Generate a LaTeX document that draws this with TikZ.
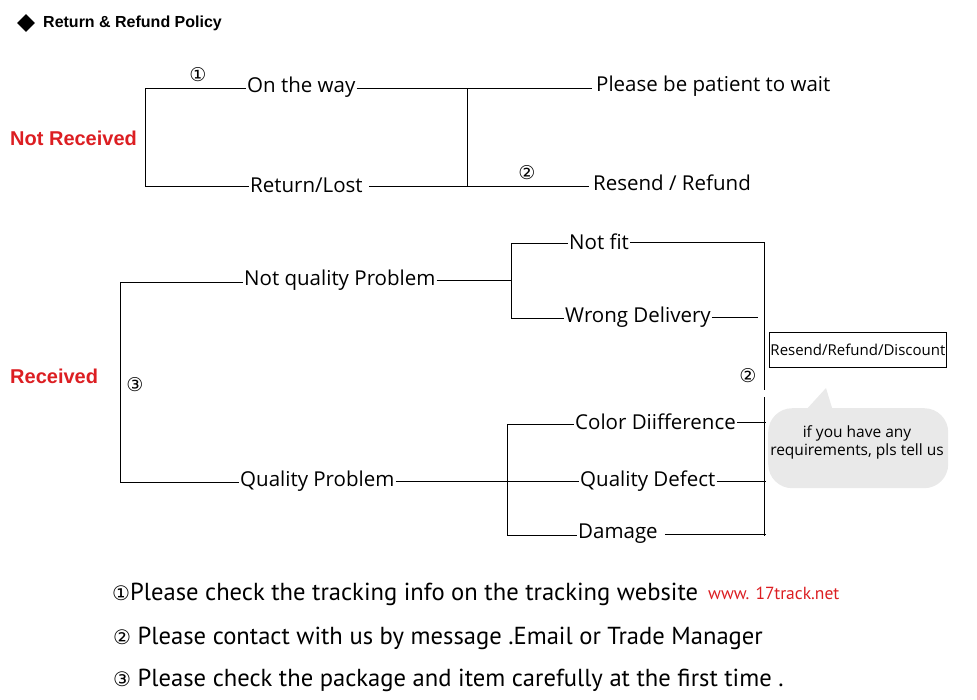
\documentclass[tikz,border=0pt]{standalone}
\usepackage{fontspec}
\usepackage{graphicx}
\setmainfont{Open Sans}
\newfontfamily\arialfont{Liberation Sans}
\newfontfamily\circfont{DejaVu Sans}
\newfontfamily\notefont{PT Sans}
\usetikzlibrary{positioning,shapes.geometric}
\definecolor{alired}{RGB}{220,30,34}
\definecolor{bubblegray}{RGB}{233,233,233}

\begin{document}
\begin{tikzpicture}[x=1pt,y=-1pt,
  lbl/.style={font=\fontsize{20.5}{23}\selectfont, inner sep=1pt, anchor=west},
  head/.style={font=\arialfont\bfseries\fontsize{20}{23}\selectfont, text=alired, inner sep=0pt, anchor=west},
  circ/.style={font=\circfont\fontsize{19}{21}\selectfont, inner sep=0pt},
  note/.style={font=\notefont\fontsize{24.6}{27}\selectfont, inner sep=0pt, anchor=west},
  wire/.style={line width=0.8pt}]
  \useasboundingbox (0,0) rectangle (977,699);

  % Titulo
  \node[diamond, fill=black, minimum size=18pt, inner sep=0pt] (bullet) at (26,23) {};
  \node[font=\arialfont\bfseries\fontsize{16}{19}\selectfont, anchor=west, inner sep=0pt]
    (title) at (43,23) {Return \& Refund Policy};

  % No recibido
  \node[head] (notrec) at (10,138) {Not Received};
  \coordinate (nrtop) at (145,88);
  \coordinate (nrbot) at (145,186);
  \coordinate (midtop) at (467,88);
  \coordinate (midbot) at (467,186);
  \node[lbl] (onway) at (246,87) {On the way};
  \node[lbl] (lost) at (249,185) {Return/Lost};
  \node[lbl, inner sep=4pt] (wait) at (592,86) {Please be patient to wait};
  \node[lbl, inner sep=4pt] (resend) at (589,183) {Resend / Refund};
  \node[circ] (one) at (198,75) {①};
  \node[circ] (two) at (527,173) {②};
  \draw[wire] (nrtop) -- (nrbot);
  \draw[wire] (nrtop) -- (nrtop -| onway.west);
  \draw[wire] (nrbot) -- (nrbot -| lost.west);
  \draw[wire] (onway.east |- midtop) -- (midtop -| wait.west);
  \draw[wire] ([xshift=5pt]lost.east |- midbot) -- (midbot -| resend.west);
  \draw[wire] (midtop) -- (midbot);

  % Recibido
  \node[head] (rec) at (10,376) {Received};
  \coordinate (rctop) at (120,282);
  \coordinate (rcbot) at (120,482);
  \node[lbl] (nqp) at (243,280) {Not quality Problem};
  \node[lbl] (qp) at (239,481) {Quality Problem};
  \node[circ] (three) at (135,385) {③};
  \draw[wire] (rctop) -- (rcbot);
  \draw[wire] (rctop) -- (rctop -| nqp.west);
  \draw[wire] (rcbot) -- (rcbot -| qp.west);

  % Rama sin problema de calidad
  \coordinate (bAtop) at (511,243);
  \coordinate (bAbot) at (511,318);
  \node[lbl] (notfit) at (568,242) {Not fit};
  \node[lbl] (wrong) at (564,317) {Wrong Delivery};
  \draw[wire] (nqp.east) -- (nqp.east -| bAtop);
  \draw[wire] (bAtop) -- (bAbot);
  \draw[wire] (bAtop) -- (bAtop -| notfit.west);
  \draw[wire] (bAbot) -- (bAbot -| wrong.west);

  % Rama con problema de calidad
  \coordinate (bBtop) at (507,424);
  \coordinate (bBbot) at (507,535);
  \node[lbl] (color) at (574,422) {Color Diifference};
  \node[lbl] (defect) at (579,481) {Quality Defect};
  \node[lbl] (damage) at (577,534) {Damage};
  \draw[wire] (bBtop) -- (bBbot);
  \draw[wire] (bBtop) -- (bBtop -| color.west);
  \draw[wire] (bBbot) -- (bBbot -| damage.west);
  \draw[wire] (qp.east) -- (qp.east -| defect.west);

  % Barra derecha
  \coordinate (rvtop) at (764,242);
  \coordinate (rvgap) at (764,390);
  \coordinate (rvres) at (764,397);
  \coordinate (rvbot) at (764,536);
  \draw[wire] (rvtop) -- (rvgap);
  \draw[wire] (rvres) -- (rvbot);
  \draw[wire] (notfit.east) -- (notfit.east -| rvtop);
  \draw[wire] (wrong.east) -- ([xshift=-6pt]wrong.east -| rvtop);
  \draw[wire] (color.east) -- ([xshift=2pt]color.east -| rvtop);
  \draw[wire] (defect.east) -- ([xshift=2pt]defect.east -| rvtop);
  \draw[wire] ([xshift=6pt]damage.east) -- ([xshift=2pt]damage.east -| rvtop);
  \node[circ] (twob) at (748,376) {②};

  % Caja y globo
  \node[draw, line width=0.8pt, minimum width=177pt, minimum height=35pt, inner sep=1pt,
    anchor=north west, font=\fontsize{15}{17}\selectfont] (offer) at (769,332) {Resend/Refund/Discount};
  \fill[bubblegray] (805,411) -- (826,388) -- (833,411) -- cycle;
  \node[fill=bubblegray, rounded corners=24pt, minimum width=180pt, minimum height=80pt,
    anchor=north west, inner sep=0pt] (bubble) at (768,408) {};
  \node[align=center, font=\fontsize{15.5}{18}\selectfont, inner sep=0pt] (bubbletext) at (857,442)
    {if you have any\\requirements, pls tell us};

  % Notas
  \node[note] (noteone) at (112,594) {{\circfont\fontsize{20}{22}\selectfont ①}Please check the tracking info on the tracking website};
  \node[font=\notefont\fontsize{17.5}{20}\selectfont, text=alired, anchor=west, inner sep=0pt]
    (site) at (708,593) {www. 17track.net};
  \node[note] (notetwo) at (113,638) {{\circfont\fontsize{20}{22}\selectfont ②} Please contact with us by message .Email or Trade Manager};
  \node[note] (notethree) at (113,680) {{\circfont\fontsize{20}{22}\selectfont ③} Please check the package and item carefully at the first time .};
\end{tikzpicture}
\end{document}
